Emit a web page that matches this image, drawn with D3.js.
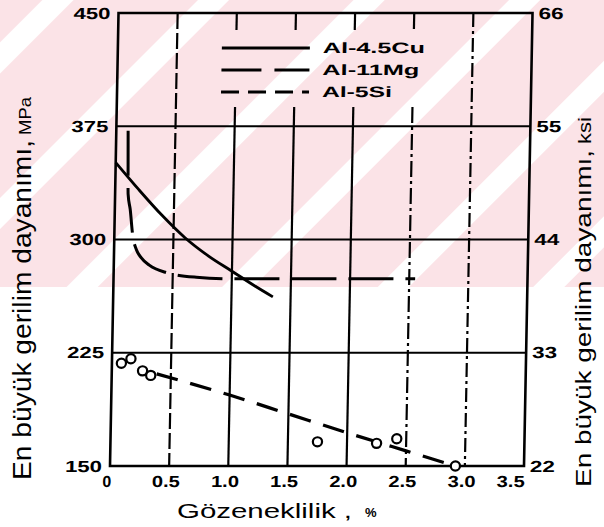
<!DOCTYPE html>
<html>
<head>
<meta charset="utf-8">
<script src="https://cdn.jsdelivr.net/npm/d3@7"></script>
<style>
  body { margin: 0; background: #fff; }
  svg { display: block; font-family: "Liberation Sans", Arial, sans-serif; }
</style>
</head>
<body>
<svg id="chart" width="604" height="527"></svg>
<script>
// ---- data ----
const xTicks = [0, 0.5, 1, 1.5, 2, 2.5, 3, 3.5];
const xTickLabels = ["0", "0.5", "1.0", "1.5", "2.0", "2.5", "3.0", "3.5"];
const mpaTicks = [150, 225, 300, 375, 450];
const ksiLabels = ["22", "33", "44", "55", "66"];
const gridX = [0.5, 1, 1.5, 2, 2.5, 3];
const gridY = [225, 300, 375];

const seriesNames = ["Al-4.5Cu", "Al-11Mg", "Al-5Si"];

const cuPorosity = [0, 0.2, 0.4, 0.6, 0.8, 1.0, 1.2, 1.35];
const cuStrength = [351, 333, 316, 301, 289, 279, 269, 262];

const mgPorosity = [0.10, 0.105, 0.11, 0.13, 0.155, 0.19, 0.23, 0.3, 0.45, 0.7, 1.0, 1.5, 2.0, 2.55];
const mgStrength = [372, 350, 330, 320, 303, 293, 288, 283, 278, 275, 274, 274, 274, 274];

const siPorosity = [0.38, 1.0, 1.5, 2.0, 2.5, 2.92];
const siStrength = [211, 197, 184.5, 172, 160, 150];

const siPointPorosity = [0.08, 0.16, 0.26, 0.33, 1.75, 2.25, 2.42, 2.92];
const siPointStrength = [218, 221, 213, 210, 166, 165, 168, 150];

// ---- layout ----
const svg = d3.select("#chart");
const x = d3.scaleLinear().domain([0, 3.5]).range([110, 524]);
const y = d3.scaleLinear().domain([150, 450]).range([466, 13]);
const yB = y(150);
const lean = -Math.atan(0.0188) * 180 / Math.PI; // scan is slightly slanted

// watermark background (pink with white diagonal bands)
const defs = svg.append("defs");
const pat = defs.append("pattern")
    .attr("id", "stripes")
    .attr("patternUnits", "userSpaceOnUse")
    .attr("width", 110).attr("height", 110)
    .attr("patternTransform", "rotate(45)");
pat.append("rect").attr("width", 110).attr("height", 110).attr("fill", "#fbe3e7");
pat.append("rect").attr("x", 30).attr("width", 22).attr("height", 110).attr("fill", "#ffffff");
svg.append("rect").attr("x", 0).attr("y", 0).attr("width", 604).attr("height", 287)
    .attr("fill", "url(#stripes)");

const g = svg.append("g")
    .attr("transform", `translate(0,${yB}) skewX(${lean}) translate(0,${-yB})`);

// horizontal grid
g.selectAll(".grid-y").data(gridY).enter().append("line")
    .attr("x1", x(0)).attr("x2", x(3.5))
    .attr("y1", d => y(d)).attr("y2", d => y(d))
    .style("stroke", "#000").style("stroke-width", 2.2);

// vertical grid, broken behind the legend
const gridStyle = { 0.5: "16,4", 1: null, 1.5: null, 2: null, 2.5: "16,4,3,4", 3: "14,4,3,4" };
const legendGap = [30, 107];
gridX.forEach(v => {
    const segs = (v >= 1 && v <= 2.5)
        ? [[y(450), legendGap[0]], [legendGap[1], yB]]
        : [[y(450), yB]];
    segs.forEach(s => {
        g.append("line")
            .attr("x1", x(v)).attr("x2", x(v))
            .attr("y1", s[0]).attr("y2", s[1])
            .style("stroke", "#000").style("stroke-width", 2.2)
            .style("stroke-dasharray", gridStyle[v]);
    });
});

// frame
g.append("rect")
    .attr("x", x(0)).attr("y", y(450))
    .attr("width", x(3.5) - x(0)).attr("height", yB - y(450))
    .style("fill", "none").style("stroke", "#000").style("stroke-width", 2.6);

// left tick labels (MPa)
g.selectAll(".ml").data(mpaTicks).enter().append("text")
    .attr("x", x(0) - 8).attr("y", d => y(d)).attr("dy", "0.36em")
    .attr("text-anchor", "end")
    .attr("textLength", 37).attr("lengthAdjust", "spacingAndGlyphs")
    .style("font-size", "16px").style("font-weight", "bold")
    .text(d => d);

// right tick labels (ksi)
g.selectAll(".kl").data(ksiLabels).enter().append("text")
    .attr("x", x(3.5) + 6).attr("y", (d, i) => y(mpaTicks[i])).attr("dy", "0.36em")
    .attr("textLength", 25).attr("lengthAdjust", "spacingAndGlyphs")
    .style("font-size", "16px").style("font-weight", "bold")
    .text(d => d);

// x tick labels
g.selectAll(".xl").data(xTicks).enter().append("text")
    .attr("x", (d, i) => x(d) - 3 - (i === xTicks.length - 1 ? 10 : 0)).attr("y", 487)
    .attr("text-anchor", "middle")
    .attr("textLength", (d, i) => xTickLabels[i].length > 1 ? 28 : null)
    .attr("lengthAdjust", "spacingAndGlyphs")
    .style("font-size", "16px").style("font-weight", "bold")
    .text((d, i) => xTickLabels[i]);

// curves
const line = d3.line().x(d => x(d[0])).y(d => y(d[1])).curve(d3.curveMonotoneX);

g.append("path")
    .datum(d3.zip(cuPorosity, cuStrength))
    .attr("d", line)
    .style("fill", "none").style("stroke", "#000").style("stroke-width", 2.8);

g.append("path")
    .datum(d3.zip(mgPorosity, mgStrength))
    .attr("d", line)
    .style("fill", "none").style("stroke", "#000").style("stroke-width", 3)
    .style("stroke-dasharray", "45,12");

g.append("path")
    .datum(d3.zip(siPorosity, siStrength))
    .attr("d", line)
    .style("fill", "none").style("stroke", "#000").style("stroke-width", 3.2)
    .style("stroke-dasharray", "22,13");

g.selectAll(".si-pt").data(d3.zip(siPointPorosity, siPointStrength)).enter().append("circle")
    .attr("cx", d => x(d[0])).attr("cy", d => y(d[1])).attr("r", 4.6)
    .style("fill", "#fff").style("stroke", "#000").style("stroke-width", 2.2);

// legend
const legendDash = [null, "40,13", "18,9"];
const legend = g.append("g").attr("transform", "translate(214,0)");
seriesNames.forEach((name, i) => {
    const ly = [48, 70, 92][i];
    legend.append("line")
        .attr("x1", 0).attr("x2", 88).attr("y1", ly).attr("y2", ly)
        .style("stroke", "#000").style("stroke-width", 2.8)
        .style("stroke-dasharray", legendDash[i]);
    legend.append("text")
        .attr("x", 101).attr("y", ly + 5)
        .attr("textLength", [102, 97, 70][i]).attr("lengthAdjust", "spacingAndGlyphs")
        .style("font-size", "15px").style("font-weight", "bold")
        .text(name);
});

// axis titles
svg.append("text")
    .attr("x", 177).attr("y", 518)
    .attr("textLength", 175).attr("lengthAdjust", "spacingAndGlyphs")
    .style("font-size", "21px")
    .text("Gözeneklilik ,");
svg.append("text")
    .attr("x", 365).attr("y", 517)
    .style("font-size", "13px").style("font-weight", "bold")
    .text("%");

svg.append("text")
    .attr("transform", "translate(31,480) rotate(-90)")
    .attr("textLength", 340).attr("lengthAdjust", "spacingAndGlyphs")
    .style("font-size", "25px")
    .text("En büyük gerilim dayanımı,");
svg.append("text")
    .attr("transform", "translate(31,135) rotate(-90)")
    .attr("textLength", 38).attr("lengthAdjust", "spacingAndGlyphs")
    .style("font-size", "16px")
    .text("MPa");

svg.append("text")
    .attr("transform", "translate(591,487) rotate(-90)")
    .attr("textLength", 337).attr("lengthAdjust", "spacingAndGlyphs")
    .style("font-size", "22px")
    .text("En büyük gerilim dayanımı,");
svg.append("text")
    .attr("transform", "translate(591,144) rotate(-90)")
    .attr("textLength", 27).attr("lengthAdjust", "spacingAndGlyphs")
    .style("font-size", "18px")
    .text("ksi");
</script>
</body>
</html>
